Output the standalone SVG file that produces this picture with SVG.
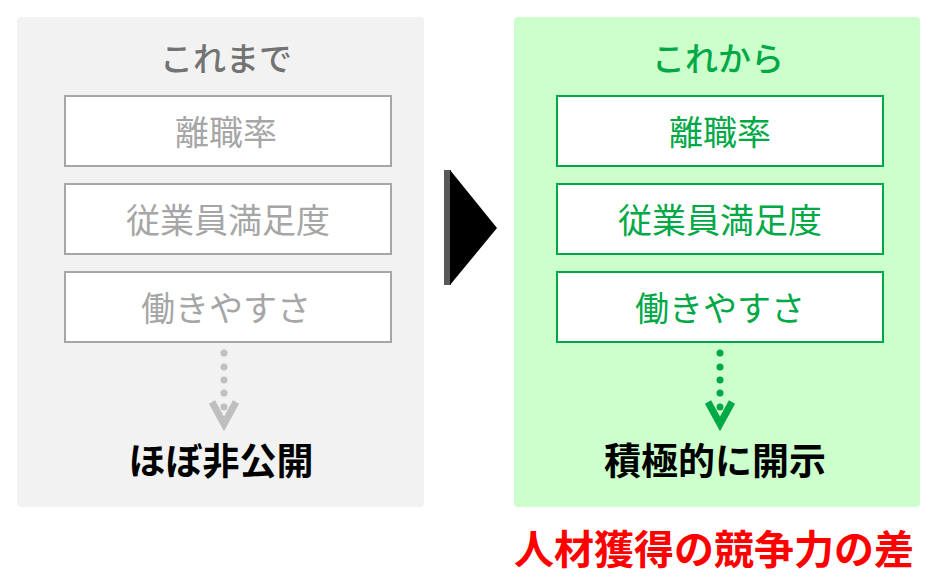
<svg xmlns="http://www.w3.org/2000/svg" width="948" height="584" viewBox="0 0 948 584">
<style>
text{font-family:"Noto Sans CJK JP","Noto Sans CJK SC",sans-serif;text-anchor:middle;dominant-baseline:central}
.gbox{fill:#fff;stroke:#a6a6a6;stroke-width:2}
.gtx{fill:#a6a6a6;font-size:34px}
.kbox{fill:#fff;stroke:#00a846;stroke-width:2}
.ktx{fill:#00a846;font-size:34px}
.title{font-size:33px;font-weight:500}
.res{font-size:37px;font-weight:bold;fill:#000}
</style>
<rect x="17" y="17" width="407" height="490" rx="4" fill="#f2f2f2"/>
<rect x="514" y="17" width="406" height="490" rx="4" fill="#ccffcc"/>
<text x="226" y="57" class="title" fill="#737373">これまで</text>
<text x="718" y="57" class="title" fill="#00a846">これから</text>
<g id="old1"><rect class="gbox" x="65" y="96" width="326" height="70"/><text class="gtx" x="226" y="130">離職率</text></g>
<g id="old2"><rect class="gbox" x="65" y="184" width="326" height="70"/><text class="gtx" x="228" y="218">従業員満足度</text></g>
<g id="old3"><rect class="gbox" x="65" y="272" width="326" height="70"/><text class="gtx" x="226" y="306">働きやすさ</text></g>
<g id="new1"><rect class="kbox" x="557" y="96" width="326" height="70"/><text class="ktx" x="720" y="130">離職率</text></g>
<g id="new2"><rect class="kbox" x="557" y="184" width="326" height="70"/><text class="ktx" x="720" y="218">従業員満足度</text></g>
<g id="new3"><rect class="kbox" x="557" y="272" width="326" height="70"/><text class="ktx" x="720" y="306">働きやすさ</text></g>
<g id="oldres"><text class="res" x="221" y="459">ほぼ非公開</text></g>
<g id="newres"><text class="res" x="715" y="459">積極的に開示</text></g>
<g id="connectors">
<g fill="#bfbfbf"><circle cx="224" cy="353" r="3.5"/><circle cx="224" cy="367" r="3.5"/><circle cx="224" cy="380" r="3.5"/><circle cx="224" cy="393" r="3.5"/><circle cx="224" cy="407" r="3.5"/></g>
<polyline points="212,402 224,424 236,402" fill="none" stroke="#bfbfbf" stroke-width="7"/>
<g fill="#00a846"><circle cx="720" cy="353" r="3.5"/><circle cx="720" cy="367" r="3.5"/><circle cx="720" cy="380" r="3.5"/><circle cx="720" cy="393" r="3.5"/><circle cx="720" cy="407" r="3.5"/></g>
<polyline points="708,402 720,424 732,402" fill="none" stroke="#00a846" stroke-width="7"/>
<polygon points="444,170 451,170 451,285 444,285" fill="#595959"/>
<polygon points="450,170 497,228 450,285" fill="#000"/>
</g>
<text x="714" y="547" font-size="40" font-weight="bold" fill="#ff0000">人材獲得の競争力の差</text>
</svg>
